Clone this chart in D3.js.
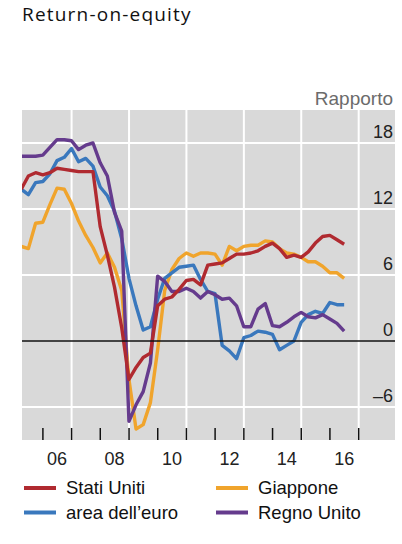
<!DOCTYPE html>
<html><head><meta charset="utf-8">
<script src="https://cdn.jsdelivr.net/npm/d3@7"></script>
<style>
html,body{margin:0;padding:0;background:#fff;}
svg{display:block;}
</style></head>
<body>
<svg id="chart" width="402" height="544"></svg>
<script>
const quarters = ["2005Q1","2005Q2","2005Q3","2005Q4","2006Q1","2006Q2","2006Q3","2006Q4","2007Q1","2007Q2","2007Q3","2007Q4","2008Q1","2008Q2","2008Q3","2008Q4","2009Q1","2009Q2","2009Q3","2009Q4","2010Q1","2010Q2","2010Q3","2010Q4","2011Q1","2011Q2","2011Q3","2011Q4","2012Q1","2012Q2","2012Q3","2012Q4","2013Q1","2013Q2","2013Q3","2013Q4","2014Q1","2014Q2","2014Q3","2014Q4","2015Q1","2015Q2","2015Q3","2015Q4","2016Q1","2016Q2"];
const statiUniti = [13.8,15.0,15.3,15.1,15.3,15.7,15.6,15.5,15.4,15.4,15.4,10.4,7.8,4.9,1.2,-3.5,-2.4,-1.5,-1.1,3.2,3.8,4.0,4.7,5.5,5.6,5.1,6.9,7.0,7.1,7.5,7.9,7.9,8.0,8.2,8.6,8.9,8.4,7.6,7.8,7.6,8.1,8.9,9.5,9.6,9.2,8.8];
const giappone = [8.6,8.4,10.7,10.8,12.4,13.9,13.8,12.5,10.9,9.6,8.5,7.1,8.0,6.7,4.6,-3.5,-8.0,-7.6,-5.6,-0.8,4.6,6.5,7.5,8.0,7.7,8.0,8.0,7.9,6.9,8.6,8.2,8.6,8.7,8.7,9.1,9.0,8.4,8.0,7.9,7.6,7.2,7.2,6.8,6.2,6.2,5.7];
const areaEuro = [13.8,13.3,14.4,14.5,15.2,16.4,16.7,17.5,16.3,16.6,15.9,14.0,13.2,11.8,9.3,5.7,3.2,1.0,1.3,3.8,5.7,6.2,6.7,6.8,6.9,5.6,4.5,4.3,-0.4,-0.9,-1.6,0.3,0.5,0.9,0.8,0.6,-0.8,-0.4,0.0,1.7,2.4,2.7,2.5,3.5,3.3,3.3];
const regnoUnito = [16.8,16.8,16.8,16.9,17.6,18.3,18.3,18.2,17.4,17.8,18.0,16.2,15.0,11.7,10.0,-7.3,-5.8,-4.6,-2.0,5.9,5.4,4.5,4.5,4.8,4.5,3.9,4.5,4.2,3.8,3.9,3.2,1.3,1.3,2.9,3.4,1.4,1.3,1.7,2.2,2.6,2.2,2.1,2.4,2.0,1.6,0.9];
const yTicks = [18,12,6,0,-6];
const yTickLabels = ["18","12","6","0","–6"];
const xLabelYears = [2006,2008,2010,2012,2014,2016];
const xLabels = ["06","08","10","12","14","16"];
const seriesNames = ["Stati Uniti","area dell’euro","Giappone","Regno Unito"];
const title = "Return-on-equity";
const unitLabel = "Rapporto";

const colors = {"Stati Uniti":"#b02a30","area dell’euro":"#3a78bd","Giappone":"#f0a42c","Regno Unito":"#653b8d"};
const seriesValues = {"Stati Uniti":statiUniti,"area dell’euro":areaEuro,"Giappone":giappone,"Regno Unito":regnoUnito};

function qEnd(q){const y=+q.slice(0,4), n=+q.slice(5); return new Date(y, n*3, 0);}
const dates = quarters.map(qEnd);

const svg = d3.select("#chart");
const L=22, R=395, T=110, B=440;
const x = d3.scaleTime().domain([new Date(2005,3,10), new Date(2018,3,8)]).range([L,R]);
const y = d3.scaleLinear().domain([-9,21]).range([B,T]);

svg.append("text").attr("x",22).attr("y",20.5).attr("font-family","'Open Sans', 'Noto Sans', sans-serif")
  .attr("font-size",19).attr("letter-spacing",1.2).attr("fill","#111").text(title);
svg.append("text").attr("x",393).attr("y",105).attr("text-anchor","end")
  .attr("font-family","'Liberation Sans', Arial, sans-serif").attr("font-size",19).attr("fill","#6b6b6b").text(unitLabel);

svg.append("rect").attr("x",L).attr("y",T).attr("width",R-L).attr("height",B-T).attr("fill","#d9d9d9");

const gridYears = [2007,2009,2011,2013,2015,2017];
svg.append("g").selectAll("line").data(gridYears).join("line")
  .attr("x1",d=>x(new Date(d,0,1))).attr("x2",d=>x(new Date(d,0,1)))
  .attr("y1",T).attr("y2",B).attr("stroke","#fff").attr("stroke-width",2);
svg.append("g").selectAll("line").data(yTicks.filter(d=>d!==0)).join("line")
  .attr("x1",L).attr("x2",R).attr("y1",d=>y(d)).attr("y2",d=>y(d)).attr("stroke","#fff").attr("stroke-width",2);

svg.append("g").selectAll("text").data(yTicks).join("text")
  .attr("x",393).attr("y",d=>y(d)-5.5).attr("text-anchor","end")
  .attr("font-family","'Liberation Sans', Arial, sans-serif").attr("font-size",18).attr("fill","#222")
  .text((d,i)=>yTickLabels[i]);

const clip = svg.append("clipPath").attr("id","clip").append("rect").attr("x",L).attr("y",T).attr("width",R-L).attr("height",B-T);

const line = d3.line().x((d,i)=>x(dates[i])).y(d=>y(d));
const order = ["Giappone","area dell’euro","Regno Unito","Stati Uniti"];
const lg = svg.append("g").attr("clip-path","url(#clip)");
order.forEach(n=>{
  lg.append("path").datum(seriesValues[n]).attr("d",line).attr("fill","none")
    .attr("stroke",colors[n]).attr("stroke-width",3.4).attr("stroke-linejoin","round");
});

svg.append("line").attr("x1",L).attr("x2",R).attr("y1",y(0)).attr("y2",y(0)).attr("stroke","#111").attr("stroke-width",1.6);

const tickYears = d3.range(2006,2018);
svg.append("g").selectAll("line").data(tickYears).join("line")
  .attr("x1",d=>x(new Date(d,0,1))).attr("x2",d=>x(new Date(d,0,1)))
  .attr("y1",B-12).attr("y2",B).attr("stroke","#111").attr("stroke-width",1.5);

svg.append("g").selectAll("text").data(xLabelYears).join("text")
  .attr("x",d=>x(new Date(d,6,1))).attr("y",465).attr("text-anchor","middle")
  .attr("font-family","'Liberation Sans', Arial, sans-serif").attr("font-size",18).attr("fill","#222")
  .text((d,i)=>xLabels[i]);

const legPos = [{lx:24,tx:66,ly:488,ty:494},{lx:24,tx:66,ly:512.5,ty:519},{lx:216,tx:258,ly:488,ty:494},{lx:216,tx:258,ly:512.5,ty:519}];
seriesNames.forEach((n,i)=>{
  const p = legPos[i];
  svg.append("line").attr("x1",p.lx).attr("x2",p.lx+32).attr("y1",p.ly).attr("y2",p.ly)
    .attr("stroke",colors[n]).attr("stroke-width",4);
  svg.append("text").attr("x",p.tx).attr("y",p.ty).attr("font-family","'Liberation Sans', Arial, sans-serif")
    .attr("font-size",18.5).attr("fill","#111").text(n);
});
</script>
</body></html>
